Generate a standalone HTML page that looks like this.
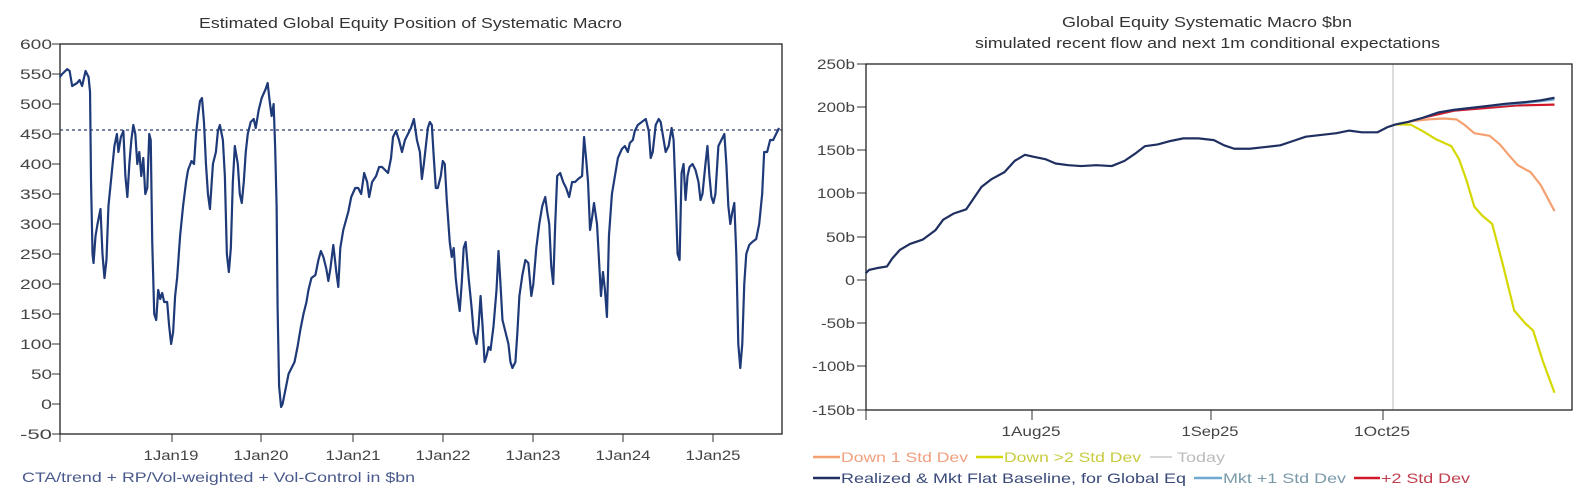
<!DOCTYPE html>
<html><head><meta charset="utf-8"><style>
body{margin:0;background:#fff;}
svg text{font-family:"Liberation Sans",Arial,sans-serif;}
</style></head><body>
<svg width="1591" height="495" viewBox="0 0 1591 495" xmlns="http://www.w3.org/2000/svg">
<rect width="1591" height="495" fill="#fff"/>
<!-- LEFT CHART -->
<text x="199" y="28" font-size="15" fill="#333" textLength="423" lengthAdjust="spacingAndGlyphs">Estimated Global Equity Position of Systematic Macro</text>
<g font-size="14" fill="#444" text-anchor="end" lengthAdjust="spacingAndGlyphs">
<text x="52" y="49" textLength="32" lengthAdjust="spacingAndGlyphs">600</text><text x="52" y="79" textLength="32" lengthAdjust="spacingAndGlyphs">550</text><text x="52" y="109" textLength="32" lengthAdjust="spacingAndGlyphs">500</text><text x="52" y="139" textLength="32" lengthAdjust="spacingAndGlyphs">450</text><text x="52" y="169" textLength="32" lengthAdjust="spacingAndGlyphs">400</text><text x="52" y="199" textLength="32" lengthAdjust="spacingAndGlyphs">350</text><text x="52" y="229" textLength="32" lengthAdjust="spacingAndGlyphs">300</text><text x="52" y="259" textLength="32" lengthAdjust="spacingAndGlyphs">250</text><text x="52" y="289" textLength="32" lengthAdjust="spacingAndGlyphs">200</text><text x="52" y="319" textLength="32" lengthAdjust="spacingAndGlyphs">150</text><text x="52" y="349" textLength="32" lengthAdjust="spacingAndGlyphs">100</text><text x="52" y="379" textLength="21" lengthAdjust="spacingAndGlyphs">50</text><text x="52" y="409" textLength="11" lengthAdjust="spacingAndGlyphs">0</text><text x="52" y="439" textLength="32" lengthAdjust="spacingAndGlyphs">-50</text>
</g>
<g stroke="#333" stroke-width="1">
<path d="M52 44H60M52 74H60M52 104H60M52 134H60M52 164H60M52 194H60M52 224H60M52 254H60M52 284H60M52 314H60M52 344H60M52 374H60M52 404H60M52 434H60"/>
<path d="M172 434V442M261 434V442M353 434V442M443 434V442M533 434V442M623 434V442M713 434V442M60 434V442"/>
</g>
<rect x="60" y="44" width="722" height="390" fill="none" stroke="#222" stroke-width="1.3"/>
<g font-size="14" fill="#444" text-anchor="middle">
<text x="171" y="460" textLength="55" lengthAdjust="spacingAndGlyphs">1Jan19</text><text x="261" y="460" textLength="55" lengthAdjust="spacingAndGlyphs">1Jan20</text><text x="353" y="460" textLength="55" lengthAdjust="spacingAndGlyphs">1Jan21</text><text x="443" y="460" textLength="55" lengthAdjust="spacingAndGlyphs">1Jan22</text><text x="533" y="460" textLength="55" lengthAdjust="spacingAndGlyphs">1Jan23</text><text x="623" y="460" textLength="55" lengthAdjust="spacingAndGlyphs">1Jan24</text><text x="713" y="460" textLength="55" lengthAdjust="spacingAndGlyphs">1Jan25</text>
</g>
<text x="22" y="482" font-size="14" fill="#4a5a8c" textLength="393" lengthAdjust="spacingAndGlyphs">CTA/trend + RP/Vol-weighted + Vol-Control in $bn</text>
<line x1="60" y1="130" x2="782" y2="130" stroke="#2a3a6a" stroke-width="1.2" stroke-dasharray="3,3"/>
<g transform="translate(0,404) scale(0.4975,0.6)">
<polyline fill="none" stroke="#1f3a78" stroke-width="2.2" vector-effect="non-scaling-stroke" stroke-linejoin="round" points="120,-545 125,-550 135,-558 140,-555 145,-530 155,-535 160,-540 165,-530 172,-555 178,-545 181,-520 183,-370 186,-250 188,-235 192,-280 196,-300 202,-325 206,-250 210,-210 214,-240 218,-330 224,-380 230,-430 235,-450 238,-420 243,-445 248,-455 252,-380 256,-345 260,-400 264,-440 268,-465 272,-450 276,-400 280,-420 284,-380 288,-410 292,-350 296,-360 300,-450 303,-440 306,-270 310,-150 314,-140 318,-190 322,-175 326,-185 330,-170 336,-170 340,-130 344,-100 348,-120 352,-180 356,-210 362,-280 368,-330 374,-370 378,-390 385,-405 390,-400 394,-450 398,-480 402,-505 406,-510 410,-470 414,-400 418,-350 422,-325 428,-400 434,-420 438,-455 442,-465 448,-440 452,-380 456,-250 460,-220 464,-260 468,-370 472,-430 478,-400 482,-350 486,-335 490,-370 494,-420 498,-450 504,-470 510,-475 514,-460 520,-490 526,-510 534,-525 538,-535 542,-505 546,-480 550,-500 553,-430 556,-330 558,-160 561,-30 565,5 568,0 574,-25 580,-50 586,-60 592,-70 598,-95 604,-125 610,-150 616,-170 620,-190 626,-210 634,-215 640,-240 645,-255 650,-245 656,-225 660,-205 664,-225 670,-265 676,-220 680,-195 684,-260 690,-290 700,-320 706,-345 714,-360 720,-360 726,-350 732,-385 738,-370 742,-345 748,-370 756,-380 762,-395 768,-395 774,-390 780,-385 786,-410 790,-445 796,-455 802,-440 808,-420 814,-440 820,-450 826,-460 832,-475 838,-440 844,-420 848,-375 852,-400 856,-430 860,-460 864,-470 868,-465 872,-410 876,-360 880,-360 886,-380 890,-405 894,-400 898,-340 904,-270 908,-245 912,-260 916,-210 920,-180 924,-155 928,-200 932,-260 936,-270 942,-210 948,-160 952,-120 958,-100 962,-130 966,-180 970,-130 974,-70 978,-80 982,-95 986,-90 992,-130 998,-190 1002,-255 1006,-200 1010,-140 1016,-120 1022,-100 1026,-70 1030,-60 1036,-70 1040,-120 1044,-180 1050,-215 1056,-240 1062,-235 1068,-180 1072,-200 1078,-260 1084,-300 1090,-330 1096,-345 1100,-320 1104,-300 1108,-230 1112,-200 1116,-300 1120,-380 1126,-385 1132,-370 1138,-360 1144,-345 1150,-370 1156,-370 1162,-375 1170,-380 1174,-445 1178,-410 1182,-370 1186,-290 1190,-310 1194,-335 1200,-300 1204,-240 1208,-180 1212,-220 1216,-190 1220,-145 1224,-280 1230,-350 1236,-380 1242,-410 1250,-425 1256,-430 1262,-420 1266,-435 1272,-440 1276,-455 1282,-465 1290,-470 1298,-475 1304,-455 1308,-410 1312,-420 1318,-465 1324,-475 1328,-470 1334,-440 1338,-420 1344,-430 1350,-460 1354,-440 1358,-350 1362,-250 1366,-240 1370,-385 1374,-400 1378,-340 1382,-380 1386,-395 1392,-400 1398,-390 1404,-370 1408,-340 1412,-350 1418,-400 1422,-430 1426,-380 1430,-345 1434,-335 1438,-350 1444,-430 1450,-440 1456,-450 1460,-400 1464,-330 1468,-300 1472,-320 1476,-335 1480,-250 1484,-100 1488,-60 1492,-100 1496,-200 1500,-250 1506,-265 1512,-270 1520,-275 1526,-300 1532,-350 1536,-420 1542,-420 1548,-440 1554,-440 1560,-450 1566,-460"/>
</g>

<!-- RIGHT CHART -->
<text x="1062" y="27" font-size="15" fill="#333" textLength="290" lengthAdjust="spacingAndGlyphs">Global Equity Systematic Macro $bn</text>
<text x="975" y="48" font-size="15" fill="#333" textLength="465" lengthAdjust="spacingAndGlyphs">simulated recent flow and next 1m conditional expectations</text>
<g font-size="14" fill="#444" text-anchor="end">
<text x="855" y="69" textLength="38" lengthAdjust="spacingAndGlyphs">250b</text><text x="855" y="112" textLength="38" lengthAdjust="spacingAndGlyphs">200b</text><text x="855" y="155" textLength="38" lengthAdjust="spacingAndGlyphs">150b</text><text x="855" y="198" textLength="38" lengthAdjust="spacingAndGlyphs">100b</text><text x="855" y="242" textLength="29" lengthAdjust="spacingAndGlyphs">50b</text><text x="855" y="285" textLength="10" lengthAdjust="spacingAndGlyphs">0</text><text x="855" y="328" textLength="34" lengthAdjust="spacingAndGlyphs">-50b</text><text x="855" y="371" textLength="43" lengthAdjust="spacingAndGlyphs">-100b</text><text x="855" y="415" textLength="43" lengthAdjust="spacingAndGlyphs">-150b</text>
</g>
<g stroke="#333" stroke-width="1">
<path d="M857 64H866M857 107H866M857 150H866M857 193H866M857 237H866M857 280H866M857 323H866M857 366H866M857 410H866"/>
<path d="M866 410V420M1032 410V420M1211 410V420M1383 410V420"/>
</g>
<line x1="1393" y1="64" x2="1393" y2="410" stroke="#bbb" stroke-width="1"/>
<rect x="866" y="64" width="706" height="346" fill="none" stroke="#222" stroke-width="1.3"/>
<g font-size="14" fill="#444" text-anchor="middle">
<text x="1031" y="436" textLength="59" lengthAdjust="spacingAndGlyphs">1Aug25</text><text x="1210" y="436" textLength="57" lengthAdjust="spacingAndGlyphs">1Sep25</text><text x="1382" y="436" textLength="56" lengthAdjust="spacingAndGlyphs">1Oct25</text>
</g>
<g transform="translate(790,280.25) scale(0.5107,0.865)" fill="none" stroke-width="2.2" stroke-linejoin="round">
<polyline vector-effect="non-scaling-stroke" stroke="#f4a070" points="1185,-180 1220,-184 1250,-186 1280,-187 1305,-186 1320,-180 1340,-170 1370,-167 1390,-157 1410,-143 1425,-133 1450,-125 1470,-110 1497,-80"/>
<polyline vector-effect="non-scaling-stroke" stroke="#d4d800" points="1185,-180 1215,-180 1240,-172 1265,-163 1295,-155 1310,-140 1325,-115 1340,-85 1355,-75 1375,-65 1395,-20 1418,35 1440,50 1455,58 1475,95 1497,130"/>
<polyline vector-effect="non-scaling-stroke" stroke="#d01828" points="1240,-188 1300,-196 1360,-199 1420,-202 1497,-203"/>
<polyline vector-effect="non-scaling-stroke" stroke="#6fa8d0" points="1240,-188 1270,-194 1300,-197 1330,-199 1360,-201 1400,-203 1440,-205 1470,-207 1497,-209"/>
<polyline vector-effect="non-scaling-stroke" stroke="#1f2f60" points="148,-8 155,-12 170,-14 190,-16 200,-25 215,-35 235,-42 260,-47 285,-58 300,-70 320,-77 345,-82 360,-95 375,-108 395,-117 420,-125 440,-138 460,-145 475,-143 500,-140 520,-135 545,-133 570,-132 600,-133 630,-132 655,-138 675,-146 695,-155 720,-157 745,-161 770,-164 800,-164 830,-162 850,-156 870,-152 900,-152 930,-154 960,-156 985,-161 1010,-166 1040,-168 1070,-170 1095,-173 1120,-171 1150,-171 1170,-177 1185,-180 1210,-183 1240,-188 1270,-194 1300,-197 1330,-199 1360,-201 1400,-204 1440,-206 1470,-208 1497,-211"/>
</g>
<g font-size="14">
<line x1="813" y1="457" x2="840" y2="457" stroke="#f4a070" stroke-width="2.5"/><text x="841" y="462" fill="#f0a080" textLength="127" lengthAdjust="spacingAndGlyphs">Down 1 Std Dev</text>
<line x1="976" y1="457" x2="1003" y2="457" stroke="#d4d800" stroke-width="2.5"/><text x="1004" y="462" fill="#c8cc40" textLength="137" lengthAdjust="spacingAndGlyphs">Down &gt;2 Std Dev</text>
<line x1="1150" y1="457" x2="1172" y2="457" stroke="#c8c8c8" stroke-width="1.5"/><text x="1177" y="462" fill="#bbb" textLength="48" lengthAdjust="spacingAndGlyphs">Today</text>
<line x1="813" y1="478" x2="840" y2="478" stroke="#1f2f60" stroke-width="2.5"/><text x="841" y="483" fill="#3a4a78" textLength="345" lengthAdjust="spacingAndGlyphs">Realized &amp; Mkt Flat Baseline, for Global Eq</text>
<line x1="1194" y1="478" x2="1222" y2="478" stroke="#6fa8d0" stroke-width="2.5"/><text x="1223" y="483" fill="#7a9aaa" textLength="123" lengthAdjust="spacingAndGlyphs">Mkt +1 Std Dev</text>
<line x1="1354" y1="478" x2="1380" y2="478" stroke="#d01828" stroke-width="2.5"/><text x="1381" y="483" fill="#c04050" textLength="89" lengthAdjust="spacingAndGlyphs">+2 Std Dev</text>
</g>
</svg>
</body></html>
